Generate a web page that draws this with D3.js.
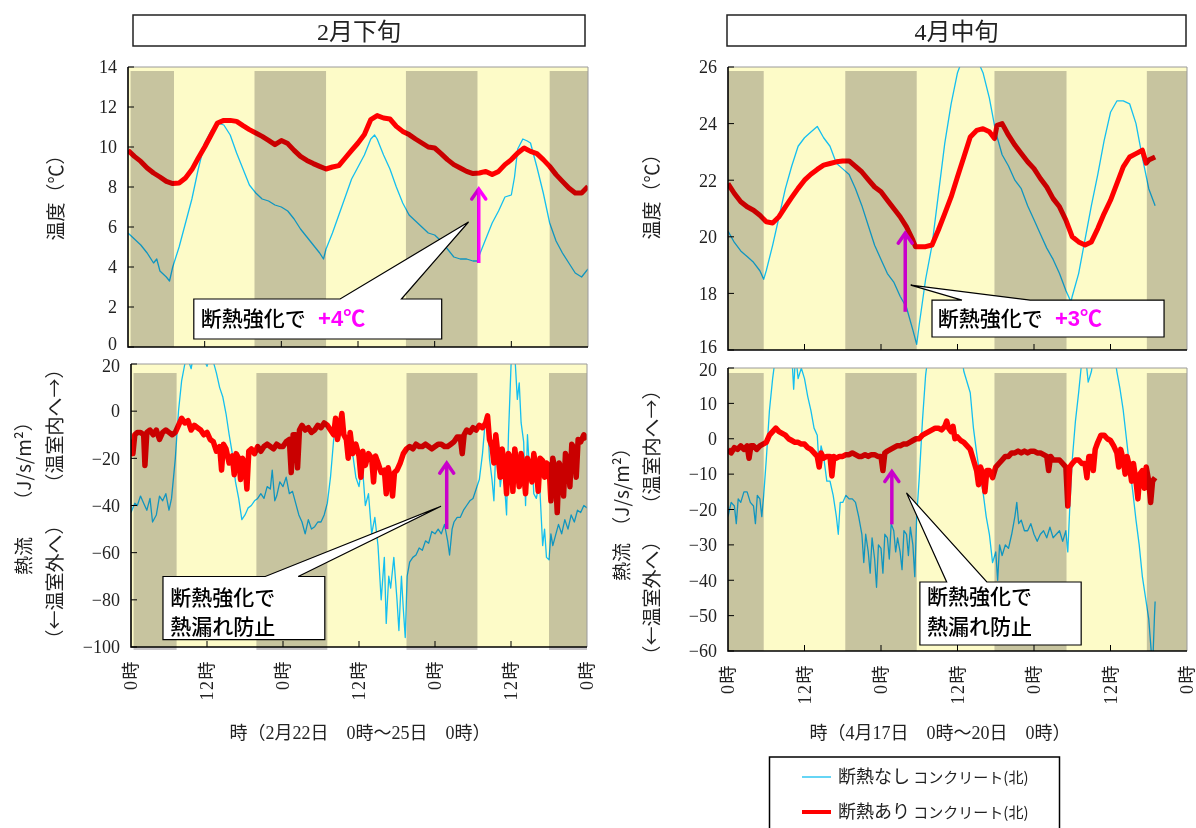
<!DOCTYPE html>
<html>
<head>
<meta charset="utf-8">
<script src="https://cdn.jsdelivr.net/npm/d3@7"></script>
<style>
  body { margin: 0; background: #fff; }
  svg { display: block; }
</style>
</head>
<body>
<div id="chart"></div>
<script>
// hours of the x axis (3 days, tick every 12 h)
const hourTicks = [0, 12, 24, 36, 48, 60, 72];
const hourTickLabels = ["0時", "12時", "0時", "12時", "0時", "12時", "0時"];

// night periods (hours from start)
const nightFeb = [[0.4, 7.2], [19.8, 31.0], [43.5, 54.7], [66, 72]];
const nightApr = [[0, 5.6], [18.4, 29.6], [41.8, 53.1], [65.7, 72]];

// Feb temperature [hour, ℃]
const febTempPlain = [[0,5.7],[1,5.4],[2,5.1],[3,4.7],[4,4.2],[4.5,4.4],[5,3.8],[6,3.5],[6.5,3.3],[7,4.0],[8,5.0],[9,6.2],[10,7.4],[11,8.9],[12,10.2],[13,10.8],[14,11.2],[15,11.1],[16,10.6],[17,9.7],[18,8.9],[19,8.1],[20,7.7],[21,7.4],[22,7.3],[23,7.1],[24,7.0],[25,6.8],[26,6.4],[27,5.9],[28,5.5],[29,5.1],[30,4.7],[30.6,4.4],[31,4.9],[32,5.7],[33,6.6],[34,7.5],[35,8.4],[36,9.0],[37,9.6],[38,10.4],[38.6,10.6],[39,10.4],[40,9.6],[41,8.9],[42,8.0],[43,7.2],[44,6.6],[45,6.3],[46,6.0],[47,5.7],[48,5.6],[49,5.3],[50,4.9],[51,4.5],[52,4.4],[53,4.4],[54,4.3],[54.8,4.3],[55,4.6],[56,5.4],[57,6.2],[58,6.8],[59,7.5],[60,7.6],[60.5,8.5],[61,9.9],[61.8,10.4],[62.5,10.3],[63,10.2],[64,9.0],[65,7.7],[66,6.2],[67,5.3],[68,4.7],[69,4.2],[70,3.7],[71,3.5],[72,3.9]];
const febTempIns = [[0,9.83],[1,9.53],[2,9.28],[3,8.95],[4,8.7],[5,8.5],[6,8.28],[7,8.17],[8,8.2],[9,8.45],[10,8.87],[11,9.45],[12,10.0],[13,10.6],[14,11.2],[15,11.33],[16,11.33],[17,11.28],[18,11.07],[19,10.87],[20,10.7],[21,10.53],[22,10.33],[23,10.12],[24,10.32],[25,10.17],[26,9.83],[27,9.53],[28,9.33],[29,9.17],[30,9.03],[31,8.9],[32,9.0],[33,9.07],[34,9.45],[35,9.83],[36,10.2],[37,10.62],[38,11.37],[39,11.57],[40,11.45],[41,11.4],[42,11.03],[43,10.78],[44,10.62],[45,10.4],[46,10.2],[47,10.0],[48,9.95],[49,9.67],[50,9.37],[51,9.12],[52,8.95],[53,8.78],[54,8.67],[55,8.7],[56,8.78],[57,8.62],[58,8.78],[59,9.12],[60,9.37],[61,9.7],[62,9.95],[63,9.78],[64,9.67],[65,9.37],[66,9.03],[67,8.62],[68,8.28],[69,7.95],[70,7.7],[71,7.7],[72,8.03]];

// Apr temperature [hour, ℃]
const aprTempPlain = [[0,20.2],[1,19.8],[2,19.5],[3,19.3],[4,19.1],[5,18.8],[5.6,18.5],[6,18.8],[7,19.7],[8,20.7],[9,21.7],[10,22.5],[11,23.2],[12,23.5],[13,23.7],[14,23.9],[15,23.5],[16,23.2],[17,22.6],[18,22.4],[19,22.2],[20,21.7],[21,21.1],[22,20.4],[23,19.7],[24,19.2],[25,18.7],[26,18.4],[27,17.9],[28,17.5],[29,16.7],[29.6,16.2],[30,16.9],[31,18.5],[32,19.7],[33,21.5],[34,23.3],[35,24.7],[36,25.8],[37,26.4],[38,26.5],[39,26.3],[40,25.8],[41,24.9],[42,23.7],[43,22.9],[44,22.5],[45,22.0],[46,21.7],[47,21.1],[48,20.6],[49,20.1],[50,19.6],[51,19.2],[52,18.7],[53,18.1],[53.8,17.7],[54,17.9],[55,18.7],[56,19.9],[57,21.1],[58,22.2],[59,23.4],[60,24.4],[61,24.8],[62,24.8],[63,24.7],[64,24.0],[65,22.8],[66,21.7],[67,21.1]];
const aprTempIns = [[0,21.88],[1,21.53],[2,21.24],[3,21.06],[4,20.94],[5,20.76],[6,20.53],[7,20.49],[8,20.71],[9,21.06],[10,21.39],[11,21.71],[12,22.0],[13,22.21],[14,22.38],[15,22.53],[16,22.59],[17,22.65],[18,22.68],[19,22.68],[20,22.49],[21,22.29],[22,22.02],[23,21.76],[24,21.59],[25,21.29],[26,21.0],[27,20.71],[28,20.35],[29,19.88],[29.4,19.65],[30,19.65],[31,19.65],[32,19.71],[33,20.24],[34,20.82],[35,21.41],[36,22.12],[37,22.82],[38,23.53],[39,23.76],[40,23.82],[41,23.71],[41.8,23.47],[42.2,23.94],[43,24.0],[44,23.59],[45,23.24],[46,22.94],[47,22.65],[48,22.41],[49,22.06],[50,21.76],[51,21.35],[52,21.06],[53,20.59],[54,20.0],[55,19.82],[56,19.71],[57,19.82],[58,20.29],[59,20.82],[60,21.29],[61,21.88],[62,22.47],[63,22.82],[64,22.94],[65,23.06],[65.6,22.6],[66,22.71],[67,22.82]];

// Feb heat flow [hour, J/s/m2]
const febFluxPlain = [[0,-43],[0.6,-39],[1,-40],[1.5,-36],[2,-39],[2.5,-42],[3,-37],[3.4,-47],[4,-44],[4.5,-36],[5,-38],[5.5,-35],[6,-42],[6.4,-37],[7,-20],[7.5,0],[8,13],[8.5,20],[9,22],[9.5,18],[10,26],[10.5,24],[11,25],[12,19],[12.5,24],[13,21],[13.5,16],[14,10],[14.5,6],[15,-1],[15.5,-10],[16,-18],[16.5,-30],[17,-37],[17.5,-46],[18,-44],[18.5,-41],[19,-40],[19.5,-38],[20,-37],[20.5,-35],[21,-37],[21.5,-32],[22,-33],[22.3,-25],[22.7,-38],[23,-36],[23.5,-30],[24,-32],[24.5,-28],[25,-35],[25.5,-34],[26,-39],[26.5,-44],[27,-47],[27.5,-52],[28,-46],[28.5,-50],[29,-49],[29.5,-47],[30,-47],[30.5,-44],[31,-39],[31.5,-28],[32,-12],[32.5,-5],[33,-6],[33.5,-9],[34,-12],[34.5,-14],[35,-18],[35.5,-28],[36,-32],[36.5,-22],[37,-40],[37.5,-35],[38,-52],[38.5,-45],[39,-57],[39.5,-80],[40,-62],[40.3,-90],[40.7,-70],[41,-75],[41.5,-62],[42,-80],[42.3,-93],[42.7,-70],[43,-84],[43.3,-96],[43.6,-70],[44,-64],[44.5,-62],[45,-61],[45.5,-58],[46,-59],[46.5,-55],[47,-56],[47.5,-51],[48,-52],[48.5,-50],[49,-52],[49.5,-48],[50,-55],[50.3,-61],[50.7,-50],[51,-47],[51.5,-45],[52,-45],[52.5,-42],[53,-40],[53.5,-38],[54,-37],[54.5,-33],[55,-29],[55.5,-18],[56,-2],[56.3,-5],[56.6,-20],[57,-29],[57.3,-38],[57.6,-16],[58,-20],[58.3,-32],[58.7,-24],[59,-32],[59.3,-44],[59.6,-10],[60,19],[60.2,30],[60.6,24],[61,5],[61.3,12],[61.6,-5],[62,-13],[62.3,-40],[62.6,-10],[63,-29],[63.3,-18],[63.6,-35],[64,-37],[64.5,-30],[65,-57],[65.3,-50],[65.6,-62],[66,-63],[66.3,-52],[66.6,-57],[67,-53],[67.5,-48],[68,-52],[68.5,-46],[69,-50],[69.5,-44],[70,-47],[70.5,-42],[71,-43],[71.5,-40],[72,-41]];
const febFluxIns = [[0,-12],[0.3,-18],[0.6,-10],[1,-9],[1.5,-9],[2,-10],[2.2,-23],[2.5,-9],[3,-8],[3.5,-10],[4,-8],[4.5,-12],[5,-9],[5.5,-8],[6,-9],[6.5,-10],[7,-9],[7.5,-6],[8,-3],[8.5,-5],[9,-4],[9.5,-8],[10,-6],[10.5,-7],[11,-8],[11.5,-10],[12,-9],[12.5,-12],[13,-13],[13.5,-17],[14,-15],[14.3,-25],[14.6,-14],[15,-16],[15.5,-22],[16,-19],[16.3,-27],[16.6,-18],[17,-20],[17.3,-29],[17.6,-20],[18,-22],[18.3,-33],[18.6,-17],[19,-16],[19.5,-18],[20,-15],[20.5,-17],[21,-15],[21.5,-14],[22,-15],[22.5,-16],[23,-14],[23.5,-15],[24,-15],[24.5,-13],[25,-12],[25.3,-26],[25.6,-10],[26,-10],[26.3,-24],[26.6,-8],[27,-6],[27.5,-8],[28,-7],[28.5,-9],[29,-8],[29.5,-6],[30,-7],[30.5,-5],[31,-6],[31.5,-8],[32,-10],[32.3,-3],[32.6,-12],[33,-6],[33.3,-1],[33.6,-10],[34,-12],[34.3,-20],[34.6,-9],[35,-18],[35.5,-14],[36,-19],[36.3,-28],[36.6,-17],[37,-23],[37.5,-18],[38,-20],[38.3,-30],[38.6,-19],[39,-22],[39.5,-26],[40,-25],[40.3,-35],[40.6,-24],[41,-29],[41.3,-36],[41.6,-26],[42,-25],[42.5,-22],[43,-18],[43.5,-16],[44,-15],[44.5,-16],[45,-14],[45.5,-15],[46,-15],[46.5,-14],[47,-15],[47.5,-16],[48,-15],[48.5,-14],[49,-14],[49.5,-15],[50,-15],[50.5,-14],[51,-13],[51.5,-11],[52,-11],[52.3,-18],[52.6,-10],[53,-8],[53.5,-9],[54,-7],[54.5,-8],[55,-6],[55.5,-7],[56,-5],[56.3,-2],[56.6,-12],[57,-15],[57.3,-22],[57.6,-10],[58,-20],[58.3,-28],[58.6,-16],[59,-23],[59.3,-35],[59.6,-18],[60,-20],[60.3,-34],[60.6,-16],[61,-25],[61.3,-32],[61.6,-18],[62,-26],[62.3,-35],[62.6,-20],[63,-23],[63.3,-30],[63.6,-18],[64,-25],[64.3,-34],[64.6,-20],[65,-21],[65.3,-28],[65.6,-22],[66,-23],[66.3,-38],[66.6,-20],[67,-26],[67.3,-43],[67.6,-22],[68,-25],[68.3,-36],[68.6,-18],[69,-21],[69.3,-32],[69.6,-14],[70,-16],[70.3,-28],[70.6,-12],[71,-13],[71.5,-10],[72,-12]];

// Apr heat flow [hour, J/s/m2]
const aprFluxPlain = [[0,-22],[0.5,-18],[1,-19],[1.3,-24],[1.6,-17],[2,-18],[2.5,-15],[3,-15],[3.5,-18],[4,-19],[4.3,-24],[4.6,-16],[5,-17],[5.3,-22],[5.6,-16],[6,-6],[6.5,8],[7,17],[7.5,24],[8,25],[9,25],[10,24],[10.3,14],[10.6,24],[11,17],[11.5,20],[12,17],[12.5,12],[13,8],[13.5,3],[14,1],[14.3,-8],[14.6,-2],[15,-5],[15.5,-12],[16,-12],[16.5,-16],[17,-22],[17.3,-27],[17.6,-18],[18,-18],[18.5,-16],[19,-17],[19.5,-17],[20,-18],[20.5,-22],[21,-27],[21.3,-35],[21.6,-27],[22,-32],[22.3,-38],[22.6,-28],[23,-34],[23.3,-42],[23.6,-30],[24,-31],[24.3,-38],[24.6,-27],[25,-28],[25.3,-34],[25.6,-24],[26,-26],[26.3,-32],[26.6,-28],[27,-32],[27.3,-37],[27.6,-26],[28,-27],[28.3,-33],[28.6,-25],[29,-30],[29.3,-39],[29.6,-22],[30,-11],[30.5,5],[31,18],[31.5,25],[36.5,25],[37,19],[38,13],[38.5,3],[39,-4],[39.5,-10],[40,-15],[40.5,-22],[41,-27],[41.5,-35],[42,-32],[42.3,-40],[42.6,-30],[43,-33],[43.5,-30],[44,-31],[44.5,-27],[45,-22],[45.3,-18],[45.6,-24],[46,-23],[46.5,-26],[47,-26],[47.5,-24],[48,-27],[48.5,-29],[49,-27],[49.5,-26],[50,-28],[50.5,-25],[51,-28],[51.5,-27],[52,-26],[52.5,-29],[53,-26],[53.3,-32],[53.6,-20],[54,-6],[54.5,5],[55,13],[55.5,22],[56,25],[56.5,16],[57,19],[57.5,25],[60.5,25],[61,19],[61.5,14],[62,8],[62.5,0],[63,-8],[63.5,-15],[64,-23],[64.5,-30],[65,-39],[65.5,-45],[66,-51],[66.3,-58],[66.6,-65],[66.9,-50],[67,-46]];
const aprFluxIns = [[0,-3],[0.5,-4],[1,-2.5],[1.5,-3],[2,-2],[2.5,-3],[3,-2],[3.3,-5.5],[3.6,-2],[4,-2],[4.5,-3],[5,-2],[5.5,-1.5],[6,-1],[6.5,1],[7,2],[7.5,3],[8,2],[8.5,1.5],[9,1],[9.5,0],[10,-0.5],[10.5,-1],[11,-1],[11.5,-1.5],[12,-1.5],[12.5,-2.5],[13,-3],[13.5,-4],[14,-5],[14.3,-8],[14.6,-4],[15,-5.5],[15.5,-5],[16,-5],[16.3,-10.5],[16.6,-5],[17,-5.5],[17.5,-5],[18,-5],[18.5,-4.5],[19,-4.5],[19.5,-4],[20,-4.5],[20.5,-5],[21,-5],[21.5,-4.5],[22,-5],[22.5,-4.5],[23,-4.5],[23.5,-5],[24,-5],[24.3,-9],[24.6,-4],[25,-3.5],[25.5,-3],[26,-2.5],[26.5,-2],[27,-2],[27.5,-1.5],[28,-1.5],[28.5,-1],[29,-0.5],[29.5,0],[30,0],[30.5,1],[31,1.5],[31.5,2],[32,2.5],[32.5,3],[33,3],[33.5,2.5],[34,3.5],[34.3,5],[34.6,3],[35,2],[35.3,3.5],[35.6,0],[36,0.5],[36.5,-0.5],[37,-1],[37.5,-2],[38,-3],[38.5,-6],[39,-9],[39.3,-13],[39.6,-8],[40,-10],[40.3,-15],[40.6,-9],[41,-9],[41.5,-11],[42,-8],[42.5,-7],[43,-6],[43.5,-5],[44,-5],[44.5,-4],[45,-4],[45.5,-3.5],[46,-4],[46.5,-3.5],[47,-4],[47.5,-3.5],[48,-3.5],[48.5,-4],[49,-4],[49.5,-4.5],[50,-5],[50.3,-9],[50.6,-5],[51,-6],[51.5,-6],[52,-6],[52.5,-7],[53,-8],[53.3,-19],[53.6,-8],[54,-7],[54.5,-6],[55,-6],[55.5,-7],[56,-7],[56.3,-11],[56.6,-5],[57,-5],[57.3,-9],[57.6,-3],[58,-1],[58.5,1],[59,1],[59.5,0],[60,-0.5],[60.5,-2],[61,-4],[61.3,-8],[61.6,-3],[62,-6],[62.3,-10],[62.6,-5],[63,-8],[63.3,-12],[63.6,-7],[64,-12],[64.3,-17],[64.6,-10],[65,-9],[65.3,-14],[65.6,-8],[66,-12],[66.3,-18],[66.6,-12],[67,-11]];

const FONT_JP = '"Noto Sans CJK JP", sans-serif';
const FONT_NUM = '"Liberation Serif", "Times New Roman", "DejaVu Serif", "Noto Sans CJK JP", serif';
const BLUE = "#14bff0";
const RED = "#ff0000";
const MAGENTA = "#ff00ff";

const svg = d3.select("#chart").append("svg")
  .attr("width", 1196).attr("height", 828)
  .style("background", "#fff");

// panel settings (pixel boxes of each plot area)
const panels = [
  { id: "tl", x0: 128, x1: 588, y0: 67, y1: 347, dom: [0, 14], ticks: d3.range(0, 15, 2), night: nightFeb, bandTop: 4, bandBot: 0,
    blue: febTempPlain, red: febTempIns, redW: 5, xLabels: false, pos: "top",
    arrow: { h: 54.9, from: 4.2, to: 8.0 },
    callout: { box: [10.3, 49.1, 2.4, 0.4], base: [33.2, 42.8], tip: [53.3, 6.25],
               lines: [{ h: 11.4, v: 1.05, parts: [["断熱強化で", "#000"], ["  +4℃", MAGENTA]] }] } },
  { id: "bl", x0: 131, x1: 587, y0: 364, y1: 647, dom: [-100, 20], ticks: d3.range(-100, 21, 20), night: nightFeb, bandTop: 9, bandBot: 3,
    blue: febFluxPlain, red: febFluxIns, redW: 5.5, xLabels: true, pos: "bottom",
    arrow: { h: 49.85, from: -50, to: -21.2 },
    callout: { box: [5.05, 30.6, -70.1, -96.9], base: [21.2, 26.4], tip: [48.95, -40.3],
               lines: [{ h: 6.2, v: -82, parts: [["断熱強化で", "#000"]] }, { h: 6.2, v: -94.6, parts: [["熱漏れ防止", "#000"]] }] } },
  { id: "tr", x0: 728, x1: 1187, y0: 67, y1: 350, dom: [16, 26], ticks: d3.range(16, 27, 2), night: nightApr, bandTop: 4, bandBot: 0,
    blue: aprTempPlain, red: aprTempIns, redW: 5, xLabels: false, pos: "top",
    arrow: { h: 27.8, from: 17.35, to: 20.2 },
    callout: { box: [32.0, 68.4, 17.76, 16.46], base: [36.7, 47.4], tip: [28.66, 18.29],
               lines: [{ h: 32.9, v: 16.85, parts: [["断熱強化で", "#000"], ["  +3℃", MAGENTA]] }] } },
  { id: "br", x0: 728, x1: 1187, y0: 368, y1: 651, dom: [-60, 20], ticks: d3.range(-60, 21, 10), night: nightApr, bandTop: 5, bandBot: 0,
    blue: aprFluxPlain, red: aprFluxIns, redW: 5.5, xLabels: true, pos: "bottom",
    arrow: { h: 25.7, from: -24.2, to: -8.7 },
    callout: { box: [30.1, 55.4, -40.5, -58.3], base: [34.3, 40.6], tip: [28.0, -15.3],
               lines: [{ h: 31.2, v: -46.7, parts: [["断熱強化で", "#000"]] }, { h: 31.2, v: -55.2, parts: [["熱漏れ防止", "#000"]] }] } }
];

function drawPanel(p) {
  const x = d3.scaleLinear().domain([0, 72]).range([p.x0, p.x1]);
  const y = d3.scaleLinear().domain(p.dom).range([p.y1, p.y0]);
  const g = svg.append("g").attr("class", "panel-" + p.id);

  // yellow background
  g.append("rect")
    .attr("x", p.x0).attr("y", p.y0)
    .attr("width", p.x1 - p.x0).attr("height", p.y1 - p.y0)
    .attr("fill", "#fdfbc8");

  svg.append("clipPath").attr("id", "clip-" + p.id)
    .append("rect")
    .attr("x", p.x0).attr("y", p.y0)
    .attr("width", p.x1 - p.x0).attr("height", p.y1 - p.y0);

  const line = d3.line().x(d => x(d[0])).y(d => y(d[1]));
  const plot = g.append("g").attr("clip-path", `url(#clip-${p.id})`);

  plot.append("path").datum(p.blue)
    .attr("d", line).attr("fill", "none")
    .attr("stroke", BLUE).attr("stroke-width", 1.3)
    .attr("stroke-linejoin", "round");

  plot.append("path").datum(p.red)
    .attr("d", line).attr("fill", "none")
    .attr("stroke", RED).attr("stroke-width", p.redW)
    .attr("stroke-linejoin", "round");

  // magenta arrow
  const ax = x(p.arrow.h), ay0 = y(p.arrow.from), ay1 = y(p.arrow.to);
  g.append("line")
    .attr("x1", ax).attr("x2", ax).attr("y1", ay0).attr("y2", ay1 + 2)
    .attr("stroke", MAGENTA).attr("stroke-width", 3.5);
  g.append("path")
    .attr("d", `M${ax - 7},${ay1 + 12}L${ax},${ay1 + 2}L${ax + 7},${ay1 + 12}`)
    .attr("fill", "none").attr("stroke", MAGENTA).attr("stroke-width", 3.5)
    .attr("stroke-linecap", "round");

  // night bands, multiplied over the lines
  g.append("g").selectAll("rect").data(p.night).join("rect")
    .attr("x", d => x(d[0]))
    .attr("width", d => x(d[1]) - x(d[0]))
    .attr("y", p.y0 + p.bandTop)
    .attr("height", p.y1 - p.y0 - p.bandTop + p.bandBot)
    .attr("fill", "rgb(201,199,203)")
    .style("mix-blend-mode", "multiply");

  // frame
  g.append("path")
    .attr("d", `M${p.x0},${p.y0}H${p.x1}V${p.y1}`)
    .attr("fill", "none").attr("stroke", "#9a9a9a").attr("stroke-width", 1);
  g.append("path")
    .attr("d", `M${p.x0},${p.y0}V${p.y1}H${p.x1}`)
    .attr("fill", "none").attr("stroke", "#000").attr("stroke-width", 1.6);

  // y ticks (inward) and labels
  g.append("g").selectAll("line").data(p.ticks).join("line")
    .attr("x1", p.x0).attr("x2", p.x0 + 6)
    .attr("y1", d => y(d)).attr("y2", d => y(d))
    .attr("stroke", "#000").attr("stroke-width", 1);
  const lo = p.dom[0], hi = p.dom[1];
  g.append("g").selectAll("text").data(p.ticks).join("text")
    .attr("x", p.x0 - 11)
    .attr("y", d => y(d) + (p.pos === "top" && d === lo ? -3 : 0) + (p.pos === "bottom" && d === hi ? 2 : 0))
    .attr("dy", "0.35em")
    .attr("text-anchor", "end")
    .style("font-family", FONT_NUM).attr("font-size", 18).attr("fill", "#222")
    .text(d => d3.format("d")(d).replace("-", "−"));

  // x ticks (inward)
  g.append("g").selectAll("line").data(hourTicks.slice(1, -1)).join("line")
    .attr("x1", d => x(d)).attr("x2", d => x(d))
    .attr("y1", p.y1).attr("y2", p.y1 - 6)
    .attr("stroke", "#000").attr("stroke-width", 1);

  if (p.xLabels) {
    g.append("g").selectAll("text").data(hourTicks).join("text")
      .attr("transform", d => `translate(${x(d)},${p.y1 + 13}) rotate(-90)`)
      .attr("dy", "0.35em")
      .attr("text-anchor", "end")
      .style("font-family", FONT_NUM).attr("font-size", 18)
      .attr("letter-spacing", 1.5).attr("fill", "#222")
      .text((d, i) => hourTickLabels[i]);
  }

  // callout with pointer
  const c = p.callout;
  const bx0 = x(c.box[0]), bx1 = x(c.box[1]), by0 = y(c.box[2]), by1 = y(c.box[3]);
  g.append("path")
    .attr("d", `M${bx0},${by0}H${x(c.base[0])}L${x(c.tip[0])},${y(c.tip[1])}L${x(c.base[1])},${by0}H${bx1}V${by1}H${bx0}Z`)
    .attr("fill", "#fff").attr("stroke", "#000").attr("stroke-width", 1.2)
    .attr("stroke-linejoin", "miter");
  c.lines.forEach(l => {
    const t = g.append("text")
      .attr("x", x(l.h)).attr("y", y(l.v))
      .style("font-family", FONT_JP).attr("font-size", 21)
      .attr("xml:space", "preserve");
    l.parts.forEach(([s, col]) => {
      t.append("tspan").attr("fill", col)
        .attr("font-weight", col === MAGENTA ? 700 : 500)
        .attr("font-size", col === MAGENTA ? 22 : 21)
        .style("font-family", col === MAGENTA ? '"Liberation Sans", "Noto Sans CJK JP", sans-serif' : FONT_JP)
        .text(s);
    });
  });
}

panels.forEach(drawPanel);

// title boxes
const titles = [
  { x0: 133, x1: 585, text: "2月下旬" },
  { x0: 727, x1: 1186, text: "4月中旬" }
];
titles.forEach(t => {
  svg.append("rect")
    .attr("x", t.x0).attr("y", 15).attr("width", t.x1 - t.x0).attr("height", 31)
    .attr("fill", "#fff").attr("stroke", "#222").attr("stroke-width", 1.5);
  svg.append("text")
    .attr("x", (t.x0 + t.x1) / 2).attr("y", 31).attr("dy", "0.36em")
    .attr("text-anchor", "middle")
    .style("font-family", FONT_NUM).attr("font-size", 24).attr("fill", "#222")
    .text(t.text);
});

// rotated axis titles
const yTitles = [
  { x: 56, y: 193, text: "温度（℃）" },
  { x: 24, y: 556, text: "熱流" },
  { x: 24, y: 461, text: "（J/s/m²）" },
  { x: 55, y: 582, text: "（←温室外へ）" },
  { x: 55, y: 426, text: "（温室内へ→）" },
  { x: 652, y: 192, text: "温度（℃）" },
  { x: 622, y: 562, text: "熱流" },
  { x: 622, y: 487, text: "（J/s/m²）" },
  { x: 652, y: 598, text: "（←温室外へ）" },
  { x: 652, y: 447, text: "（温室内へ→）" }
];
svg.append("g").selectAll("text").data(yTitles).join("text")
  .attr("transform", d => `translate(${d.x},${d.y}) rotate(-90)`)
  .attr("dy", "0.35em").attr("text-anchor", "middle")
  .style("font-family", FONT_JP).attr("font-size", 19).attr("fill", "#222")
  .text(d => d.text);

const xTitles = [
  { x: 360, text: "時（2月22日　0時〜25日　0時）" },
  { x: 940, text: "時（4月17日　0時〜20日　0時）" }
];
svg.append("g").selectAll("text").data(xTitles).join("text")
  .attr("x", d => d.x).attr("y", 733).attr("dy", "0.35em")
  .attr("text-anchor", "middle")
  .style("font-family", FONT_NUM).attr("font-size", 18).attr("fill", "#222")
  .text(d => d.text);

// legend
const legendItems = [
  { name: "断熱なし", sub: " コンクリート(北)", color: BLUE, w: 1.3 },
  { name: "断熱あり", sub: " コンクリート(北)", color: RED, w: 4 }
];
const legend = svg.append("g");
legend.append("rect")
  .attr("x", 769.5).attr("y", 757).attr("width", 290).attr("height", 90)
  .attr("fill", "#fff").attr("stroke", "#000").attr("stroke-width", 1.5);
legendItems.forEach((d, i) => {
  const ly = 777 + i * 35;
  legend.append("line")
    .attr("x1", 802).attr("x2", 831).attr("y1", ly).attr("y2", ly)
    .attr("stroke", d.color).attr("stroke-width", d.w);
  const t = legend.append("text")
    .attr("x", 838).attr("y", ly).attr("dy", "0.36em")
    .style("font-family", FONT_JP).attr("fill", "#222");
  t.append("tspan").attr("font-size", 18).text(d.name);
  t.append("tspan").attr("font-size", 15).text(d.sub);
});
</script>
</body>
</html>
